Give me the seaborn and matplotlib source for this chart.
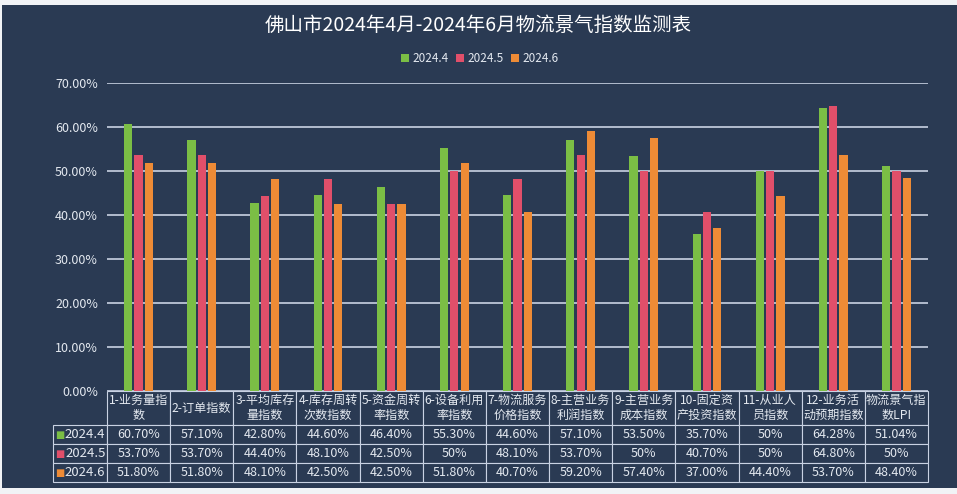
import numpy as np
import pandas as pd
import matplotlib
matplotlib.use("Agg")
import matplotlib.pyplot as plt
import seaborn as sns
from matplotlib.patches import Rectangle, Patch

# Data
categories = ["1-业务量指\n数", "2-订单指数", "3-平均库存\n量指数", "4-库存周转\n次数指数",
              "5-资金周转\n率指数", "6-设备利用\n率指数", "7-物流服务\n价格指数", "8-主营业务\n利润指数",
              "9-主营业务\n成本指数", "10-固定资\n产投资指数", "11-从业人\n员指数", "12-业务活\n动预期指数",
              "物流景气指\n数LPI"]
months = ["2024.4", "2024.5", "2024.6"]
idx_2024_4 = [60.70, 57.10, 42.80, 44.60, 46.40, 55.30, 44.60, 57.10, 53.50, 35.70, 50, 64.28, 51.04]
idx_2024_5 = [53.70, 53.70, 44.40, 48.10, 42.50, 50, 48.10, 53.70, 50, 40.70, 50, 64.80, 50]
idx_2024_6 = [51.80, 51.80, 48.10, 42.50, 42.50, 51.80, 40.70, 59.20, 57.40, 37.00, 44.40, 53.70, 48.40]
yticks = [0, 10, 20, 30, 40, 50, 60, 70]

colors = ["#7BBE45", "#E14F6A", "#EE8B36"]
bg = "#2A3A53"
fg = "#E4E9F0"
line_c = "#C9D2E3"

sns.set_theme(style="white")
plt.rcParams['font.family'] = ['Noto Sans CJK SC', 'DejaVu Sans']

df = pd.DataFrame({
    "cat": categories * 3,
    "month": np.repeat(months, len(categories)),
    "value": idx_2024_4 + idx_2024_5 + idx_2024_6,
})

W, H = 957, 494
fig = plt.figure(figsize=(W / 100, H / 100), dpi=100, facecolor="#F1F3F6")
fig.patches.append(Rectangle((2 / W, 6 / H), 1, 483 / H, transform=fig.transFigure,
                             facecolor=bg, edgecolor="none", zorder=-1))

ax = fig.add_axes([107 / W, (H - 391) / H, 821 / W, 308 / H])
ax.set_facecolor(bg)
sns.barplot(data=df, x="cat", y="value", hue="month", palette=colors, width=0.49, gap=0.2,
            saturation=1, ax=ax, legend=False, linewidth=0, edgecolor="none")
ax.set_axisbelow(True)
ax.set_xlim(-0.5, len(categories) - 0.5)
ax.set_ylim(0, 70)
ax.set_yticks(yticks)
ax.set_yticklabels([f"{t:.2f}%" for t in yticks])
ax.set_xticks([])
ax.set_xlabel("")
ax.set_ylabel("")
ax.yaxis.grid(True, color=line_c, lw=1.2)
ax.tick_params(axis="y", colors=fg, length=0, pad=6.5, labelsize=9)
for s in ax.spines.values():
    s.set_visible(False)

# Data table under the bars (first column holds the series names)
def fmt(v):
    return "50%" if v == 50 else f"{v:.2f}%"

cell_text = [[m] + [fmt(v) for v in s] for m, s in zip(months, (idx_2024_4, idx_2024_5, idx_2024_6))]
tbl = ax.table(cellText=cell_text, colLabels=[""] + categories, cellLoc="center",
               bbox=[-54 / 821, -91 / 308, 875 / 821, 91 / 308])
tbl.auto_set_font_size(False)
tbl.set_fontsize(9)
for (r, c), cell in tbl.get_celld().items():
    cell.set_facecolor(bg)
    cell.set_edgecolor(line_c)
    cell.set_linewidth(0.8)
    cell.get_text().set_color(fg)
    cell.set_width(54 if c == 0 else 821 / 13)
    cell.set_height(34 if r == 0 else 19)
    if r == 0:
        cell.get_text().set_fontsize(8.7)
    if c == 0:
        cell.get_text().set_horizontalalignment("right")
        cell._loc = "right"
        cell.PAD = 0.03
        cell.get_text().set_fontsize(9.5)
    if r == 0 and c == 0:
        cell.set_linewidth(0)
        cell.set_facecolor("none")

row_y = [-(34 + 9.5) / 308, -(34 + 28.5) / 308, -(34 + 47.5) / 308]
for y, col in zip(row_y, colors):
    ax.text(-52 / 821, y, "■", color=col, fontsize=7, ha="left", va="center",
            transform=ax.transAxes, family=["DejaVu Sans"])

# Legend and title
handles = [Patch(facecolor=c, edgecolor="none", label=m) for c, m in zip(colors, months)]
fig.legend(handles=handles, loc="center", bbox_to_anchor=(480 / W, 1 - 59 / H), ncol=3,
           frameon=False, handlelength=0.7, handleheight=0.7, handletextpad=0.3,
           columnspacing=0.6, fontsize=8.5, labelcolor=fg)
fig.text(0.5, 1 - 25 / H, "佛山市2024年4月-2024年6月物流景气指数监测表", ha="center", va="center",
         fontsize=14, color="white")

fig.savefig("out.png", dpi=100, facecolor=fig.get_facecolor())
